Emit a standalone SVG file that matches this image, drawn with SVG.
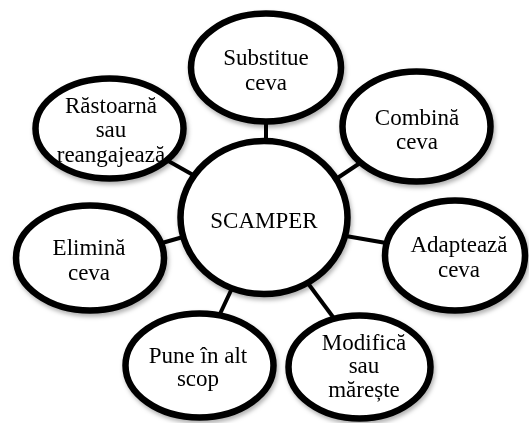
<svg xmlns="http://www.w3.org/2000/svg" width="529" height="423" viewBox="0 0 529 423">
<defs>
<filter id="sh" x="-20%" y="-20%" width="140%" height="150%">
<feDropShadow dx="1.5" dy="3" stdDeviation="2" flood-color="#000" flood-opacity="0.3"/>
</filter>
<style>
.n{fill:#fff;stroke:#000;stroke-width:6.5;}
.c{stroke:#000;stroke-width:4;fill:none;}
text{font-family:"Liberation Serif","Times New Roman",serif;font-size:23px;fill:#000;text-anchor:middle;}
</style>
</defs>
<rect width="529" height="423" fill="#fff"/>
<g id="connectors">
<line class="c" x1="266" y1="115" x2="266" y2="148"/>
<line class="c" x1="163" y1="158" x2="202" y2="180"/>
<line class="c" x1="330" y1="183" x2="366" y2="159"/>
<line class="c" x1="155" y1="245" x2="190" y2="235"/>
<line class="c" x1="340" y1="235" x2="392" y2="244"/>
<line class="c" x1="219" y1="316" x2="234" y2="284"/>
<line class="c" x1="307" y1="282" x2="336" y2="321"/>
</g>
<g id="center" filter="url(#sh)">
<ellipse class="n" cx="264" cy="217.5" rx="83.5" ry="76.5" stroke-width="7"/>
<text x="264" y="228">SCAMPER</text>
</g>
<g id="substitue" filter="url(#sh)">
<ellipse class="n" cx="266" cy="67.5" rx="75" ry="54"/>
<text x="266" y="65">Substitue</text>
<text x="266" y="90">ceva</text>
</g>
<g id="combina" filter="url(#sh)">
<ellipse class="n" cx="416.5" cy="126.5" rx="74" ry="55"/>
<text x="417" y="125">Combină</text>
<text x="417" y="149">ceva</text>
</g>
<g id="rastoarna" filter="url(#sh)">
<ellipse class="n" cx="109.5" cy="128.5" rx="74" ry="50"/>
<text x="111" y="113">Răstoarnă</text>
<text x="111" y="137">sau</text>
<text x="111" y="162">reangajează</text>
</g>
<g id="elimina" filter="url(#sh)">
<ellipse class="n" cx="90" cy="258" rx="74" ry="52.5"/>
<text x="89" y="255">Elimină</text>
<text x="89" y="280">ceva</text>
</g>
<g id="adapteaza" filter="url(#sh)">
<ellipse class="n" cx="455" cy="255.5" rx="70" ry="55"/>
<text x="459" y="252">Adaptează</text>
<text x="459" y="277">ceva</text>
</g>
<g id="pune" filter="url(#sh)">
<ellipse class="n" cx="199.5" cy="365.5" rx="74" ry="52"/>
<text x="198" y="363">Pune în alt</text>
<text x="198" y="386">scop</text>
</g>
<g id="modifica" filter="url(#sh)">
<ellipse class="n" cx="359.5" cy="367" rx="71" ry="51.5"/>
<text x="364" y="350">Modifică</text>
<text x="364" y="373">sau</text>
<text x="364" y="397">mărește</text>
</g>
</svg>
